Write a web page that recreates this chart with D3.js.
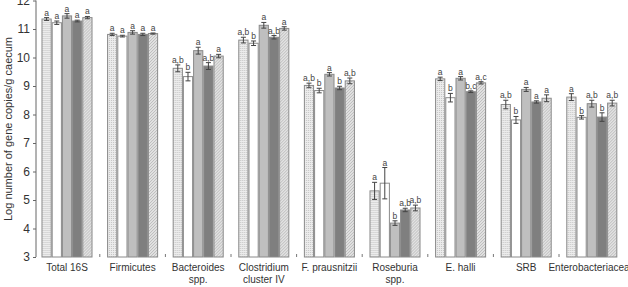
<!DOCTYPE html>
<html><head><meta charset="utf-8">
<script src="https://cdn.jsdelivr.net/npm/d3@7"></script>
<style>body{margin:0;background:#fff}svg{display:block}text{font-family:"Liberation Sans",Arial,sans-serif}</style>
</head><body><svg id="c" width="628" height="287"></svg>
<script>
const categories = ["Total 16S","Firmicutes","Bacteroides\nspp.","Clostridium\ncluster IV","F. prausnitzii","Roseburia\nspp.","E. halli","SRB","Enterobacteriaceae"];
const seriesNames = ["s1","s2","s3","s4","s5"];
const s1 = [11.35,10.81,9.62,10.61,9.02,5.32,9.25,8.35,8.61];
const s2 = [11.22,10.75,9.33,10.50,8.84,5.59,8.59,7.81,7.90];
const s3 = [11.46,10.88,10.24,11.13,9.41,4.19,9.27,8.88,8.38];
const s4 = [11.28,10.81,9.70,10.71,8.93,4.65,8.80,8.44,7.91];
const s5 = [11.40,10.84,10.05,11.02,9.18,4.72,9.11,8.57,8.40];
const e1 = [0.05,0.04,0.12,0.10,0.08,0.30,0.06,0.15,0.12];
const e2 = [0.06,0.03,0.15,0.08,0.08,0.55,0.15,0.12,0.06];
const e3 = [0.08,0.06,0.12,0.10,0.06,0.08,0.06,0.07,0.12];
const e4 = [0.03,0.04,0.12,0.06,0.06,0.06,0.03,0.04,0.15];
const e5 = [0.04,0.02,0.06,0.06,0.10,0.10,0.04,0.12,0.10];
const l1 = ["a","a","a,b","a,b","a,b","a","a","a,b","a"];
const l2 = ["a","a","b","b","b","a","b","b","b"];
const l3 = ["a","a","a","a","a","b","a","a","a,b"];
const l4 = ["a","a","a,b","a,b","b","a,b","b,c","a","b"];
const l5 = ["a","a","a","a","a,b","a,b","a,c","a","a,b"];
const yTicks = [3,4,5,6,7,8,9,10,11,12];

const vals=[s1,s2,s3,s4,s5], errs=[e1,e2,e3,e4,e5], labs=[l1,l2,l3,l4,l5];
const svg=d3.select("#c");
const defs=svg.append("defs");
const p1=defs.append("pattern").attr("id","dots").attr("patternUnits","userSpaceOnUse").attr("width",2).attr("height",2);
p1.append("rect").attr("width",2).attr("height",2).attr("fill","#ececec");
p1.append("rect").attr("width",1).attr("height",1).attr("fill","#c4c4c4");
const p5=defs.append("pattern").attr("id","hatch").attr("patternUnits","userSpaceOnUse").attr("width",3).attr("height",3);
p5.append("rect").attr("width",3).attr("height",3).attr("fill","#e2e2e2");
p5.append("path").attr("d","M0,3L3,0M-1,1L1,-1M2,4L4,2").attr("stroke","#b2b2b2").attr("stroke-width",0.8);
const fills=["url(#dots)","#ffffff","#bfbfbf","#7f7f7f","url(#hatch)"];

const y=d3.scaleLinear().domain([3,12]).range([257,0.5]);
const x=d3.scaleBand().domain(categories).range([34.2,624.6]).paddingInner(0.222).paddingOuter(0.111);
const xs=d3.scaleBand().domain(seriesNames).range([0,x.bandwidth()]);

// y axis
const ya=svg.append("g").attr("transform","translate(36,0)").call(d3.axisLeft(y).tickValues(yTicks).tickSize(3).tickPadding(3));
ya.select(".domain").attr("stroke","#666").attr("d","M0,0.5V257");
ya.selectAll(".tick line").attr("stroke","#666");
ya.selectAll("text").attr("font-size",12).attr("fill","#333");
svg.append("text").attr("transform","translate(12,129) rotate(-90)").attr("text-anchor","middle").attr("font-size",11).attr("fill","#333").text("Log number of gene copies/g caecum");

// between-group ticks
svg.append("g").selectAll("line").data(categories.slice(1)).join("line")
 .attr("x1",d=>x(d)-x.step()*x.paddingInner()/2).attr("x2",d=>x(d)-x.step()*x.paddingInner()/2)
 .attr("y1",257).attr("y2",254).attr("stroke","#777");

categories.forEach((c,i)=>{
  const g=svg.append("g").attr("transform",`translate(${x(c)},0)`);
  seriesNames.forEach((s,j)=>{
    const v=vals[j][i], e=errs[j][i];
    const bx=xs(s), bw=xs.bandwidth(), cx=bx+bw/2;
    g.append("rect").attr("x",bx+0.5).attr("y",y(v)).attr("width",bw-1).attr("height",y(3)-y(v))
     .attr("fill",fills[j]).attr("stroke","#8a8a8a").attr("stroke-width",1);
    const top=y(v+e), bot=y(v-e);
    g.append("line").attr("x1",cx).attr("x2",cx).attr("y1",top).attr("y2",bot).attr("stroke","#444");
    g.append("line").attr("x1",cx-2.5).attr("x2",cx+2.5).attr("y1",top).attr("y2",top).attr("stroke","#444");
    g.append("line").attr("x1",cx-2.5).attr("x2",cx+2.5).attr("y1",bot).attr("y2",bot).attr("stroke","#444");
    g.append("text").attr("x",cx).attr("y",top-2).attr("text-anchor","middle").attr("font-size",8.5).attr("fill","#444").text(labs[j][i]);
  });
  const lines=c.split("\n");
  const t=svg.append("text").attr("x",x(c)+x.bandwidth()/2).attr("y",271).attr("text-anchor","middle").attr("font-size",10).attr("fill","#333");
  lines.forEach((ln,k)=>t.append("tspan").attr("x",x(c)+x.bandwidth()/2).attr("dy",k?12:0).text(ln));
});
</script></body></html>
